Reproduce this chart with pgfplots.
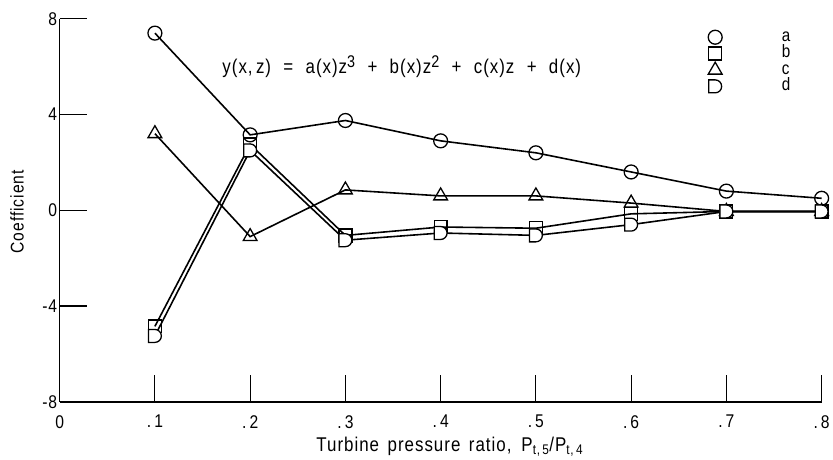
\documentclass[border=0pt]{standalone}
\usepackage{fontspec}
\setmainfont{Liberation Sans}[FakeStretch=0.85, LetterSpace=5, WordSpace=1.5]
\usepackage{pgfplots}
\pgfplotsset{compat=1.18}

% "D" shaped mark: flat left side, round right side
\pgfdeclareplotmark{halfd}{%
  \pgfpathmoveto{\pgfqpoint{-\pgfplotmarksize}{-\pgfplotmarksize}}%
  \pgfpathlineto{\pgfqpoint{0pt}{-\pgfplotmarksize}}%
  \pgfpatharc{-90}{90}{\pgfplotmarksize}%
  \pgfpathlineto{\pgfqpoint{-\pgfplotmarksize}{\pgfplotmarksize}}%
  \pgfpathclose
  \pgfusepathqfillstroke}

\newcommand{\sep}{\hspace{0.62em}}
\newcommand{\pw}[1]{\raisebox{0.6ex}{\fontsize{17}{17}\selectfont #1}}

\begin{document}
\begin{tikzpicture}
\begin{axis}[
  scale only axis, width=766pt, height=385pt,
  xmin=0, xmax=0.8, ymin=-8, ymax=8,
  axis x line*=bottom, axis y line*=left,
  axis line style={line width=1.6pt},
  xtick={0,0.1,0.2,0.3,0.4,0.5,0.6,0.7,0.8},
  xticklabels={0,.\,1,.\,2,.\,3,.\,4,.\,5,.\,6,.\,7,.\,8},
  ytick={-8,-4,0,4,8},
  yticklabels={-8,-4,0,4,8},
  tick align=inside, major tick length=27pt,
  tick style={line width=1.1pt, black},
  /pgf/number format/assume math mode=true,
  font=\fontsize{18.5}{20}\selectfont,
  xticklabel style={yshift=-10pt},
  yticklabel style={xshift=1pt},
  clip=false,
  every axis plot/.append style={black, line width=1.6pt,
    mark options={solid, fill=white, line width=1.3pt}},
  xlabel={Turbine pressure ratio,\enspace P\textsubscript{t,\,5}/P\textsubscript{t,\,4}},
  xlabel style={at={(axis description cs:0.512,-0.117)}, anchor=center,
    font=\fontsize{20}{22}\selectfont},
  ylabel={Coefficient},
  ylabel style={at={(axis description cs:-0.056,0.496)}, anchor=center, rotate=0},
  legend style={draw=none, fill=none, at={(axis description cs:0.847,0.977)},
    anchor=north west, row sep=1.3pt, font=\fontsize{18}{18}\selectfont,
    nodes={inner sep=0pt, text height=12pt, text depth=3pt}},
  legend cell align=left,
  legend image code/.code={\draw[#1, only marks] plot coordinates {(0.25cm,0cm)};},
]
\addplot[mark=o, mark size=7pt] coordinates {
  (0.1,7.4) (0.2,3.15) (0.3,3.75) (0.4,2.9) (0.5,2.4) (0.6,1.6) (0.7,0.8) (0.8,0.5)};
\addlegendentry{\hspace{60pt}a}
\addplot[mark=square, mark size=6.5pt] coordinates {
  (0.1,-4.85) (0.2,2.75) (0.3,-1.05) (0.4,-0.7) (0.5,-0.75) (0.6,-0.15) (0.7,-0.05) (0.8,-0.05)};
\addlegendentry{\hspace{60pt}b}
\addplot[mark=triangle, mark size=8pt] coordinates {
  (0.1,3.2) (0.2,-1.1) (0.3,0.85) (0.4,0.6) (0.5,0.6) (0.6,0.3) (0.7,-0.05) (0.8,-0.05)};
\addlegendentry{\hspace{60pt}c}
\addplot[mark=halfd, mark size=6.5pt] coordinates {
  (0.1,-5.25) (0.2,2.5) (0.3,-1.25) (0.4,-0.95) (0.5,-1.05) (0.6,-0.6) (0.7,-0.05) (0.8,-0.05)};
\addlegendentry{\hspace{60pt}d}
\node[anchor=center, font=\fontsize{20}{22}\selectfont] at (axis description cs:0.449,0.875)
  {y(x,\,z)\sep=\sep a(x)z\pw{3}\sep+\sep b(x)z\pw{2}\sep+\sep c(x)z\sep+\sep d(x)};
\path (axis description cs:-0.0783,-0.148) rectangle (axis description cs:1.009,1.049);
\end{axis}
\end{tikzpicture}
\end{document}
